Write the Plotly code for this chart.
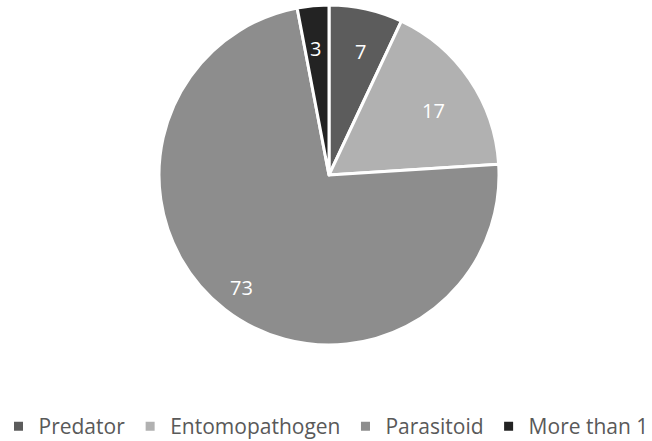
import math
import plotly.graph_objects as go

labels = ["Predator", "Entomopathogen", "Parasitoid", "More than 1"]
values = [7, 17, 73, 3]
colors = ["#5c5c5c", "#b1b1b1", "#8d8d8d", "#232323"]

W, H = 652, 447  # slightly taller than the 441 window; page overflow is hidden
FONT = "Open Sans, sans-serif"
# pie geometry (pixels)
cx, cy, r = 329, 175, 170

fig = go.Figure(go.Pie(
    labels=labels, values=values, sort=False, direction="clockwise", rotation=0,
    marker=dict(colors=colors, line=dict(color="white", width=3)),
    textinfo="none",
    domain=dict(x=[(cx - r) / W, (cx + r) / W], y=[1 - (cy + r) / H, 1 - (cy - r) / H]),
    hoverinfo="skip",
))

# value labels placed at slice mid-angles
total = sum(values)
cum = 0
annotations = []
for v in values:
    mid = (cum + v / 2) / total * 2 * math.pi
    cum += v
    px = cx + 0.84 * r * math.sin(mid)
    py = cy - 0.84 * r * math.cos(mid)
    annotations.append(dict(x=px / W, y=1 - py / H, xref="paper", yref="paper",
                            text=str(v), showarrow=False,
                            font=dict(color="white", size=20, family=FONT)))

fig.update_layout(
    width=W, height=H, margin=dict(l=0, r=0, t=0, b=0),
    paper_bgcolor="white", plot_bgcolor="white",
    annotations=annotations,
    legend=dict(orientation="h", x=0.5, xanchor="center", y=0, yanchor="bottom",
                font=dict(size=21, color="#595959", family=FONT),
                traceorder="normal"),
    showlegend=True,
)
fig.write_html("out.html", config={"displayModeBar": False},
               post_script="document.body.style.margin='0';document.body.style.overflow='hidden';"
                           "document.documentElement.style.overflow='hidden';")
